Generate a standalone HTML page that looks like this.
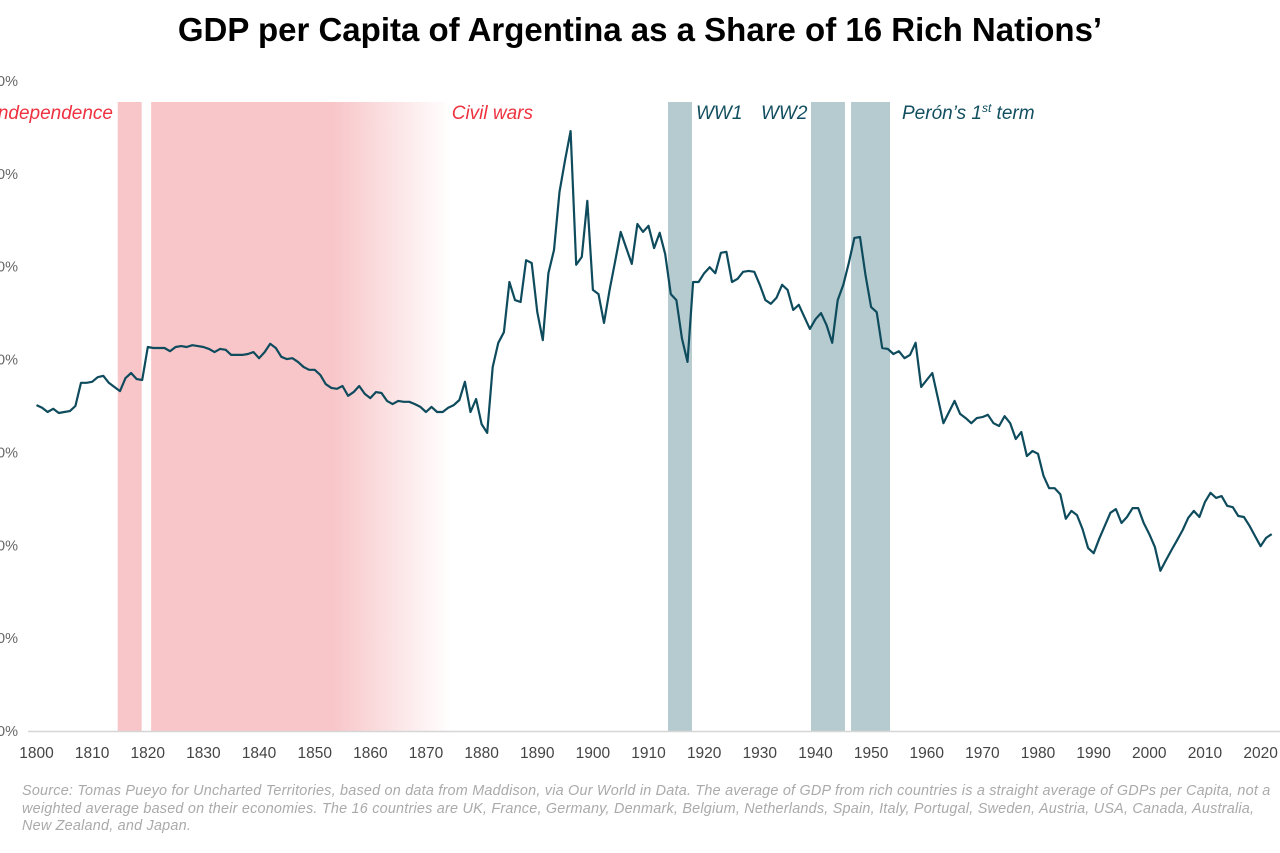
<!DOCTYPE html>
<html><head><meta charset="utf-8">
<style>
html,body{margin:0;padding:0;background:#fff;width:1280px;height:853px;overflow:hidden;font-family:"Liberation Sans",sans-serif;}
#title{position:absolute;left:0;width:1280px;top:11px;text-align:center;font-size:33px;font-weight:bold;color:#000;}
#footer{position:absolute;left:22px;top:783px;width:1258px;font-size:14.4px;line-height:17.5px;letter-spacing:0.22px;font-style:italic;color:#aaa;}
svg{position:absolute;left:0;top:0;}
</style></head><body>
<div id="title">GDP per Capita of Argentina as a Share of 16 Rich Nations’</div>
<svg id="chart" width="1280" height="853">
<defs>
<linearGradient id="civfade" x1="0" x2="1" y1="0" y2="0">
<stop offset="0" stop-color="#f8c5c8"/><stop offset="0.6" stop-color="#f8c5c8"/><stop offset="1" stop-color="#f8c5c8" stop-opacity="0"/>
</linearGradient>
</defs>
<g id="bands"></g><g id="grid"></g><g id="line"></g><g id="labels"></g>
</svg>
<div id="footer">Source: Tomas Pueyo for Uncharted Territories, based on data from Maddison, via Our World in Data. The average of GDP from rich countries is a straight average of GDPs per Capita, not a weighted average based on their economies. The 16 countries are UK, France, Germany, Denmark, Belgium, Netherlands, Spain, Italy, Portugal, Sweden, Austria, USA, Canada, Australia, New Zealand, and Japan.</div>
<script>
const startYear = 1800;
const shares = [
70.2,69.6,68.7,69.4,68.5,68.7,68.9,70.0,75.0,75.0,
75.2,76.2,76.5,75.0,74.1,73.2,76.0,77.1,75.8,75.6,
82.7,82.5,82.5,82.5,81.8,82.7,82.9,82.7,83.1,82.9,
82.7,82.3,81.6,82.3,82.1,81.0,81.0,81.0,81.2,81.6,
80.3,81.6,83.4,82.5,80.6,80.1,80.3,79.5,78.4,77.8,
77.8,76.7,74.7,73.9,73.7,74.3,72.2,73.0,74.3,72.6,
71.7,73.0,72.8,71.1,70.4,71.1,70.9,70.9,70.4,69.8,
68.7,69.8,68.7,68.7,69.6,70.2,71.3,75.2,68.7,71.5,
66.1,64.2,78.4,83.6,85.9,96.7,92.8,92.4,101.4,100.8,
90.2,84.2,98.6,103.6,116.1,123.0,129.2,100.4,102.1,114.2,
95.0,94.1,87.9,95.0,101.2,107.5,104.0,100.6,109.2,107.5,
108.8,104.0,107.3,102.7,94.1,92.8,84.6,79.5,96.7,96.7,
98.6,99.9,98.6,103.0,103.2,96.7,97.4,98.9,99.1,98.9,
96.1,92.8,92.0,93.3,96.1,95.0,90.7,91.8,89.2,86.6,
88.7,90.0,87.4,83.6,92.8,96.1,100.8,106.2,106.4,98.2,
91.3,90.2,82.5,82.3,81.2,81.8,80.3,81.0,83.6,74.1,
75.6,77.1,71.7,66.3,68.7,71.1,68.3,67.4,66.3,67.4,
67.6,68.1,66.3,65.7,67.8,66.3,62.9,64.4,59.2,60.3,
59.7,54.9,52.3,52.3,51.0,45.7,47.4,46.5,43.5,39.4,
38.3,41.4,44.2,47.0,47.8,44.8,46.1,48.0,48.0,44.8,
42.4,39.6,34.5,36.8,39.0,41.1,43.3,45.9,47.4,46.1,
49.3,51.3,50.2,50.6,48.5,48.2,46.3,46.1,44.2,42.0,
39.8,41.6,42.4
];
const xTicks = [1800,1810,1820,1830,1840,1850,1860,1870,1880,1890,1900,1910,1920,1930,1940,1950,1960,1970,1980,1990,2000,2010,2020];
const yTicks = [0,20,40,60,80,100,120,140];
const yTickLabels = ["0%","20%","40%","60%","80%","100%","120%","140%"];
const bandNames = ["independence","civil-wars","ww1","ww2","peron-first-term"];
const bandStarts = [1814.6,1820.6,1913.5,1939.2,1946.4];
const bandEnds = [1818.9,1874.5,1917.8,1945.3,1953.4];
const bandLabels = ["Independence","Civil wars","WW1","WW2","Perón’s 1st term"];

const NS="http://www.w3.org/2000/svg";
const x = yr => 36.5 + (yr-1800)*5.564;
const y = v => 731 - v*4.643;
function mk(tag, attrs, parent){const e=document.createElementNS(NS,tag);for(const k in attrs)e.setAttribute(k,attrs[k]);parent.appendChild(e);return e;}
const gB=document.getElementById('bands'),gG=document.getElementById('grid'),gL=document.getElementById('line'),gT=document.getElementById('labels');

bandNames.forEach((n,i)=>{
  const fill = i==0?'#f8c5c8':(i==1?'url(#civfade)':'#b6cbd0');
  const r=mk('rect',{x:x(bandStarts[i]),y:102,width:x(bandEnds[i])-x(bandStarts[i]),height:629,fill:fill},gB);
  
  
});

const axis=mk('line',{x1:28,x2:1280,y1:731.5,y2:731.5,stroke:'#d6d6d6','stroke-width':1.5},gG);



yTicks.forEach((t,i)=>{
  const tx=mk('text',{x:18,y:y(t)+5,'text-anchor':'end','font-size':14.5,fill:'#666','font-family':'Liberation Sans, sans-serif'},gT);
  tx.textContent=yTickLabels[i];
  
  
});
xTicks.forEach(t=>{
  const tx=mk('text',{x:x(t),y:758,'text-anchor':'middle','font-size':15.5,fill:'#444','font-family':'Liberation Sans, sans-serif'},gT);
  tx.textContent=t;
  
  
});

const pts = shares.map((v,i)=>x(startYear+i).toFixed(1)+','+y(v).toFixed(1)).join(' ');
const pl=mk('polyline',{points:pts,fill:'none',stroke:'#0e4b5d','stroke-width':2.2,'stroke-linejoin':'round'},gL);



const labelX=[113,533,696,761,902];
const labelAnchor=['end','end','start','start','start'];
const labelColor=['#ee3240','#ee3240','#134f60','#134f60','#134f60'];
bandLabels.forEach((s,i)=>{
  const tx=mk('text',{x:labelX[i],y:119,'text-anchor':labelAnchor[i],'font-size':19,'font-style':'italic',fill:labelColor[i],'font-family':'Liberation Sans, sans-serif'},gT);
  if(i==4){tx.innerHTML='Perón’s 1<tspan font-size="12" dy="-7">st</tspan><tspan dy="7"> term</tspan>';}
  else tx.textContent=s;
  
  
});
</script>
</body></html>
